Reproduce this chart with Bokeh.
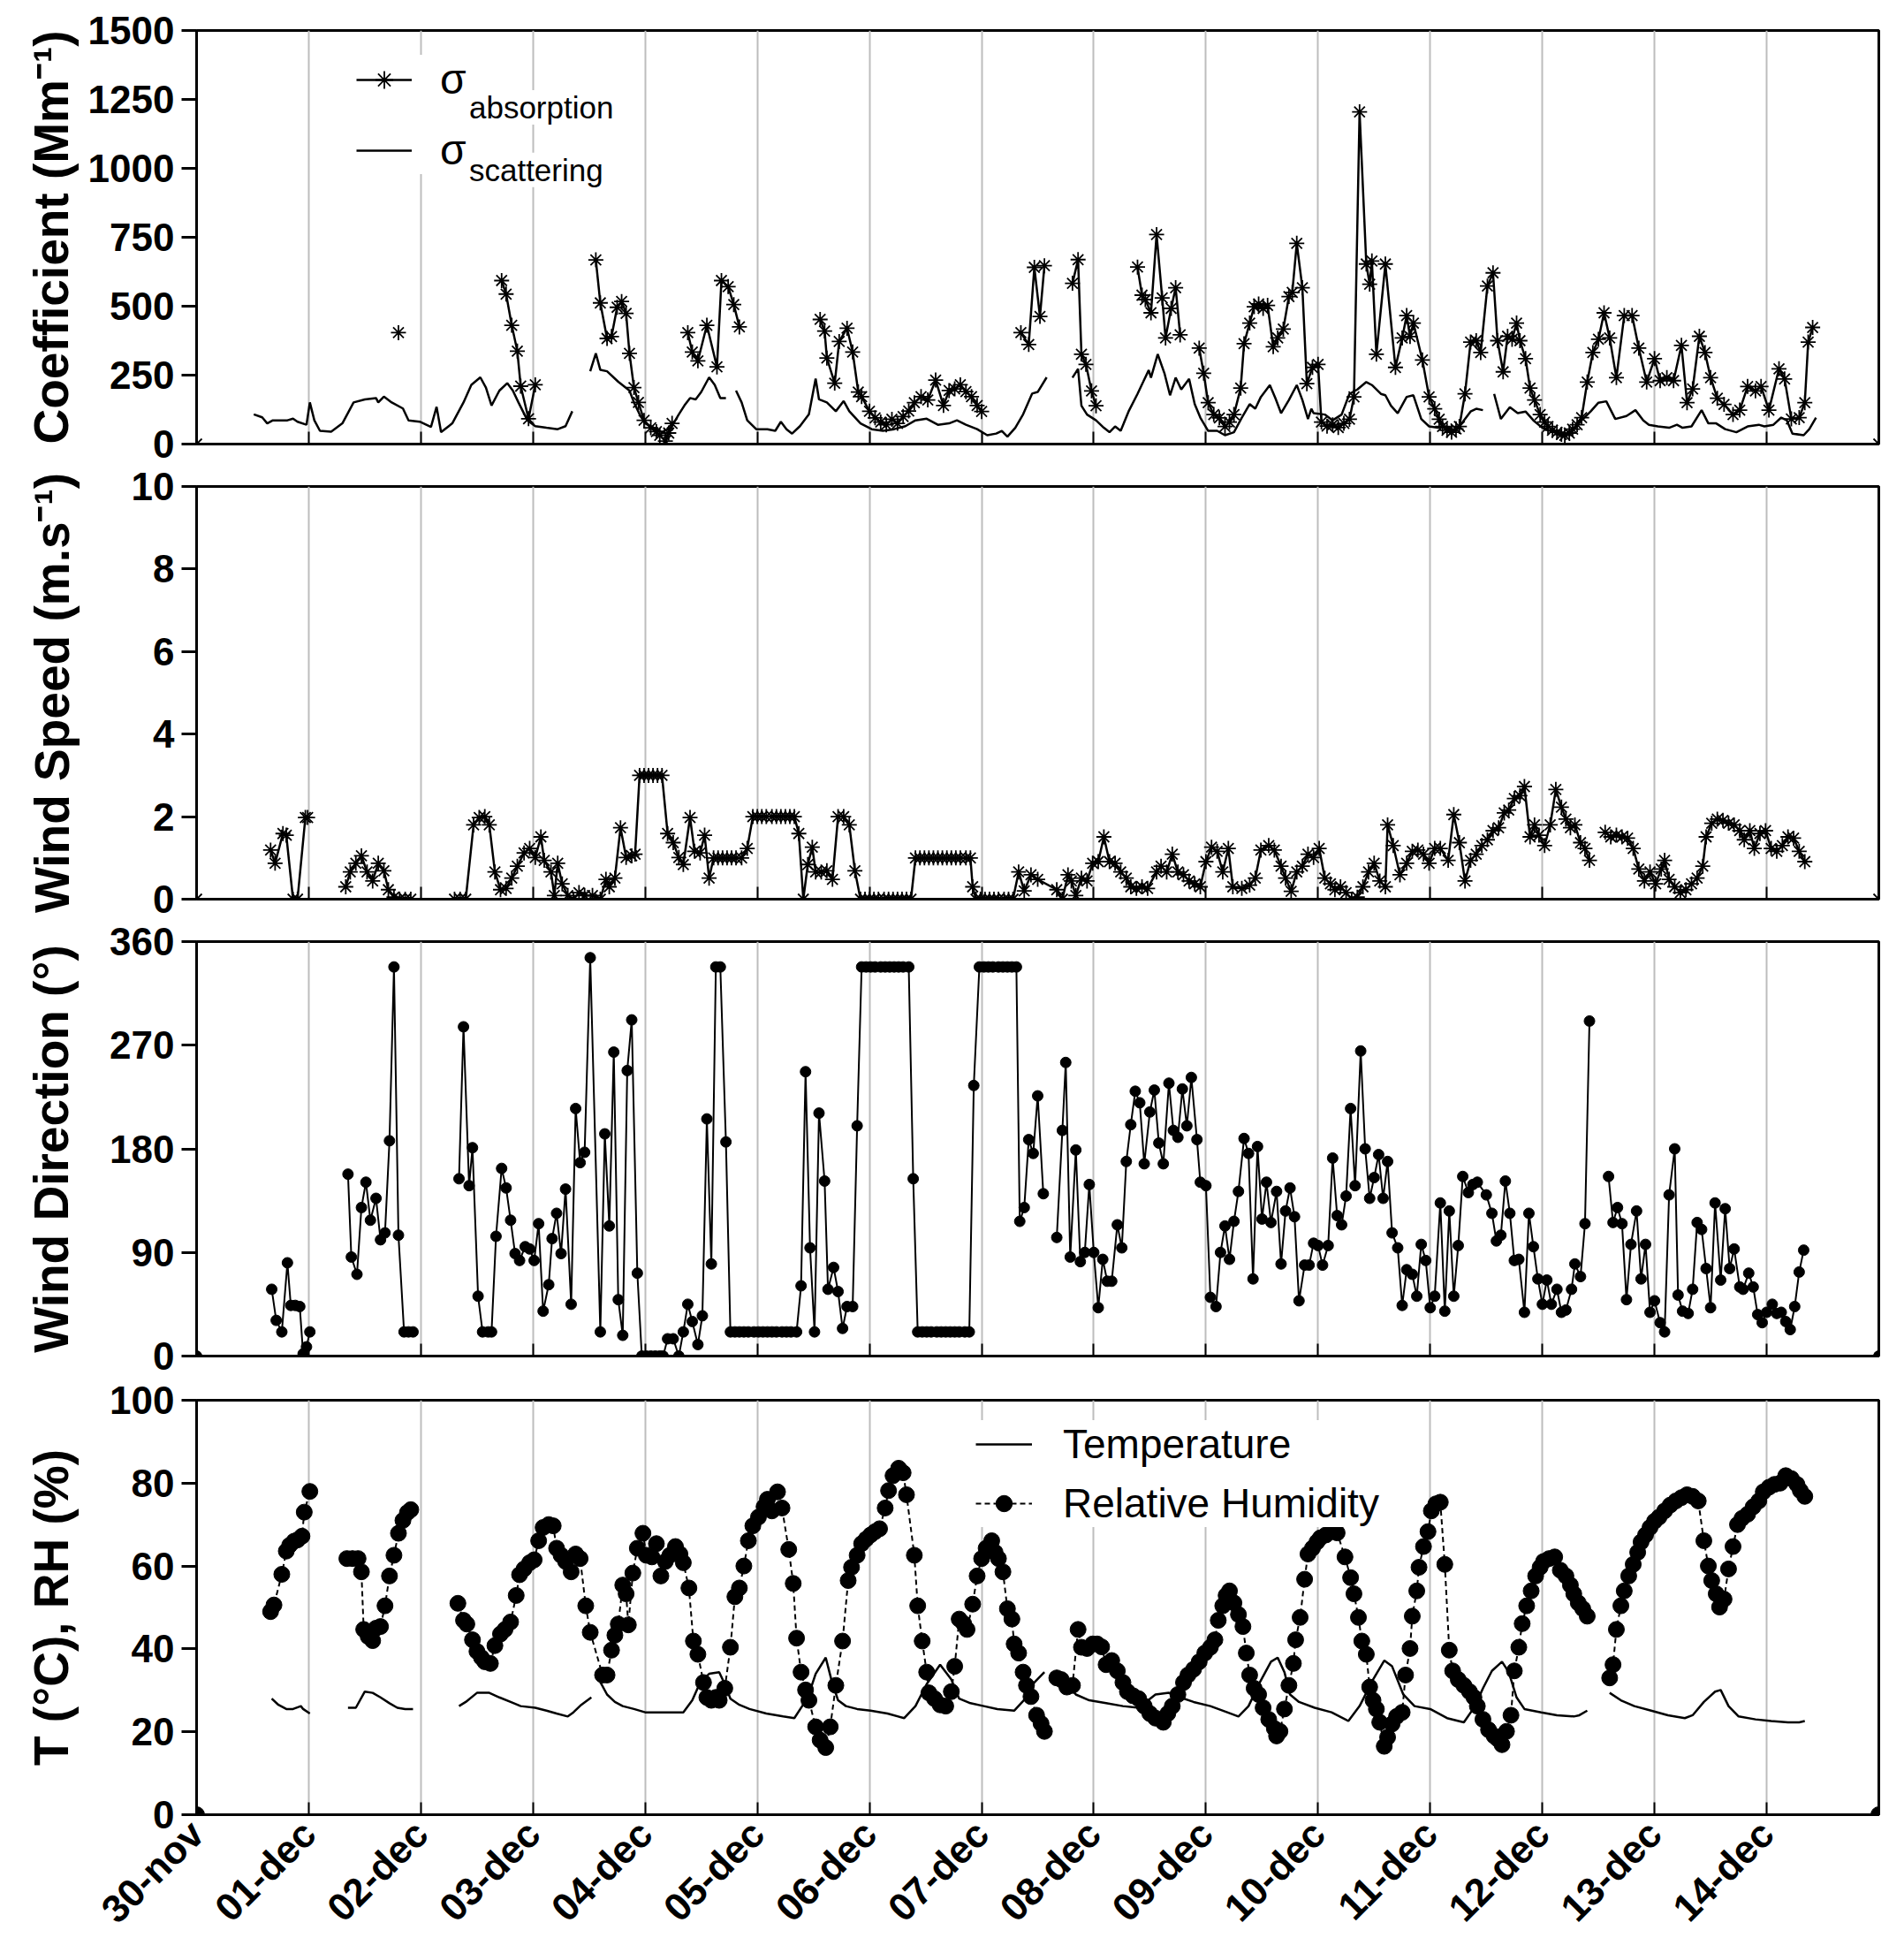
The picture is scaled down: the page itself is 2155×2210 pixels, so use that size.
import numpy as np
from bokeh.plotting import figure
from bokeh.models import Range1d, FixedTicker, Legend, LegendItem, Label
from bokeh.layouts import column
from bokeh.embed import file_html
from bokeh.resources import INLINE

FONT = "Liberation Sans"

# ---------------- data (day since 30-nov 00:00, value) ; None = gap ----------------
day_labels = ["30-nov", "01-dec", "02-dec", "03-dec", "04-dec", "05-dec", "06-dec", "07-dec",
              "08-dec", "09-dec", "10-dec", "11-dec", "12-dec", "13-dec", "14-dec"]

abs_pts = [
    (0, 0), None,
    (1.8, 404), None,
    (2.72, 593), (2.76, 544), (2.81, 431), (2.86, 337), (2.89, 210), (2.96, 92), (3.02, 215), None,
    (3.56, 668), (3.6, 512), (3.66, 383), (3.7, 390), (3.75, 496), (3.79, 517), (3.83, 474), (3.86, 329),
    (3.9, 205), (3.94, 151), (3.99, 86), (4.05, 59), (4.1, 45), (4.13, 32), (4.18, 11), (4.21, 40), (4.24, 75), None,
    (4.38, 404), (4.42, 334), (4.47, 302), (4.55, 431), (4.64, 280), (4.68, 593), (4.74, 571), (4.79, 506), (4.84, 425), None,
    (5.56, 452), (5.6, 410), (5.62, 312), (5.69, 221), (5.73, 372), (5.8, 420), (5.85, 334), (5.9, 189), (5.93, 172),
    (6.0, 119), (6.05, 95), (6.1, 80), (6.15, 70), (6.2, 90), (6.25, 75), (6.3, 100), (6.35, 120), (6.4, 150),
    (6.46, 172), (6.52, 160), (6.59, 232), (6.66, 140), (6.71, 194), (6.76, 200), (6.81, 215), (6.86, 190),
    (6.91, 172), (6.96, 140), (7.0, 118), None,
    (7.35, 404), (7.42, 361), (7.47, 641), (7.52, 463), (7.56, 647), None,
    (7.81, 583), (7.86, 669), (7.89, 326), (7.93, 289), (7.98, 193), (8.02, 139), None,
    (8.39, 642), (8.43, 540), (8.46, 524), (8.51, 476), (8.56, 760), (8.61, 530), (8.64, 385), (8.69, 492),
    (8.73, 567), (8.77, 396), None,
    (8.94, 348), (8.98, 257), (9.02, 150), (9.07, 107), (9.12, 95), (9.17, 64), (9.21, 80), (9.25, 107),
    (9.31, 203), (9.34, 364), (9.39, 439), (9.43, 498), (9.47, 508), (9.51, 492), (9.55, 503), (9.6, 353),
    (9.64, 385), (9.69, 417), (9.74, 535), (9.77, 550), (9.81, 728), (9.86, 567), (9.9, 219), (9.95, 278),
    (10.0, 289), (10.03, 80), (10.08, 65), (10.13, 70), (10.18, 60), (10.23, 75), (10.28, 90), (10.32, 171),
    (10.37, 1205), (10.43, 653), (10.46, 580), (10.48, 664), (10.52, 326), (10.6, 653), (10.69, 278),
    (10.75, 385), (10.79, 466), (10.82, 390), (10.85, 439), (10.93, 305), (10.99, 171), (11.04, 128),
    (11.08, 90), (11.11, 64), (11.15, 50), (11.19, 43), (11.23, 55), (11.26, 64), (11.31, 182), (11.36, 370),
    (11.41, 375), (11.45, 332), (11.51, 573), (11.56, 621), (11.6, 375), (11.65, 262), (11.69, 391),
    (11.73, 380), (11.77, 439), (11.8, 375), (11.85, 310), (11.89, 203), (11.93, 160), (11.98, 107),
    (12.02, 80), (12.05, 64), (12.09, 50), (12.13, 43), (12.17, 35), (12.2, 32), (12.24, 40), (12.27, 54),
    (12.31, 70), (12.35, 96), (12.4, 225), (12.45, 332), (12.5, 380), (12.55, 476), (12.6, 385), (12.66, 241),
    (12.73, 466), (12.8, 466), (12.86, 348), (12.93, 225), (13.0, 310), (13.05, 230), (13.11, 241),
    (13.17, 230), (13.24, 358), (13.29, 150), (13.34, 200), (13.4, 391), (13.45, 332), (13.5, 241),
    (13.56, 166), (13.62, 144), (13.7, 107), (13.76, 123), (13.83, 209), (13.9, 193), (13.95, 209),
    (14.02, 123), (14.11, 273), (14.16, 236), (14.22, 91), (14.29, 96), (14.34, 150), (14.37, 370), (14.41, 423), None,
    (15, 0),
]

sca_pts = [
    (0.51, 108), (0.585, 97), (0.63, 75), (0.68, 86), (0.73, 86), (0.81, 86), (0.86, 92), (0.9, 81), (0.98, 70),
    (1.01, 151), (1.05, 86), (1.1, 48), (1.2, 45), (1.3, 75), (1.4, 151), (1.5, 162), (1.6, 167), (1.62, 151),
    (1.67, 172), (1.74, 151), (1.84, 129), (1.89, 86), (1.99, 81), (2.09, 62), (2.14, 135), (2.18, 43),
    (2.28, 75), (2.38, 151), (2.45, 215), (2.53, 242), (2.58, 205), (2.63, 140), (2.7, 194), (2.77, 221),
    (2.82, 194), (2.87, 151), (2.95, 86), (3.02, 65), (3.12, 59), (3.22, 54), (3.29, 65), (3.35, 119), None,
    (3.51, 264), (3.56, 329), (3.6, 269), (3.66, 264), (3.76, 226), (3.86, 194), (3.9, 151), (3.95, 108),
    (4.0, 75), (4.08, 59), (4.15, 43), (4.23, 59), (4.3, 108), (4.35, 140), (4.4, 167), (4.45, 162),
    (4.5, 189), (4.57, 242), (4.62, 215), (4.67, 167), (4.72, 167), None,
    (4.81, 194), (4.86, 151), (4.91, 86), (4.99, 54), (5.09, 54), (5.16, 48), (5.21, 81), (5.26, 54),
    (5.31, 38), (5.38, 65), (5.46, 108), (5.52, 237), (5.55, 162), (5.62, 151), (5.7, 119), (5.77, 156),
    (5.82, 119), (5.92, 75), (6.02, 54), (6.12, 48), (6.22, 54), (6.32, 65), (6.41, 86), (6.51, 92),
    (6.61, 70), (6.71, 75), (6.78, 86), (6.86, 70), (6.96, 54), (7.05, 32), (7.13, 38), (7.18, 48),
    (7.23, 27), (7.3, 59), (7.37, 108), (7.45, 183), (7.5, 189), (7.58, 242), None,
    (7.81, 241), (7.86, 273), (7.89, 139), (7.94, 107), (8.02, 86), (8.09, 59), (8.14, 43), (8.19, 64),
    (8.24, 48), (8.31, 118), (8.39, 182), (8.44, 225), (8.49, 268), (8.51, 241), (8.57, 326), (8.63, 257),
    (8.68, 177), (8.73, 241), (8.78, 198), (8.85, 236), (8.9, 145), (8.95, 96), (9.02, 48), (9.1, 48),
    (9.17, 32), (9.25, 43), (9.32, 96), (9.39, 145), (9.44, 128), (9.49, 171), (9.57, 214), (9.62, 166),
    (9.67, 112), (9.74, 160), (9.81, 214), (9.86, 160), (9.91, 91), (9.94, 128), (9.96, 112), (10.06, 107),
    (10.13, 86), (10.21, 107), (10.28, 182), (10.35, 198), (10.43, 225), (10.48, 214), (10.56, 182),
    (10.6, 177), (10.65, 139), (10.71, 112), (10.79, 171), (10.85, 177), (10.92, 91), (10.99, 64),
    (11.07, 59), (11.14, 64), (11.21, 48), (11.29, 80), (11.36, 118), (11.41, 128), (11.47, 123), None,
    (11.57, 182), (11.63, 91), (11.71, 134), (11.78, 112), (11.85, 118), (11.92, 86), (12.0, 59), (12.1, 43),
    (12.2, 38), (12.27, 48), (12.35, 86), (12.43, 118), (12.5, 150), (12.57, 155), (12.65, 91), (12.75, 102),
    (12.83, 123), (12.9, 86), (12.95, 70), (13.03, 64), (13.13, 59), (13.2, 70), (13.25, 59), (13.33, 64),
    (13.42, 123), (13.48, 75), (13.55, 75), (13.63, 54), (13.73, 43), (13.83, 64), (13.93, 70), (13.98, 64),
    (14.06, 70), (14.13, 96), (14.18, 86), (14.23, 38), (14.33, 32), (14.38, 54), (14.44, 96),
]

ws_pts = [
    (0, 0), None,
    (0.66, 1.19), (0.7, 0.87), (0.77, 1.59), (0.8, 1.55), (0.86, 0), (0.9, 0), (0.97, 1.98), (0.99, 1.98), None,
    (1.33, 0.3), (1.37, 0.66), (1.42, 0.87), (1.47, 1.05), (1.52, 0.66), (1.57, 0.44), (1.62, 0.87),
    (1.67, 0.69), (1.71, 0.23), (1.76, 0.05), (1.81, 0), (1.86, 0), (1.91, 0), None,
    (2.3, 0), (2.35, 0), (2.4, 0), (2.47, 1.8), (2.52, 1.98), (2.57, 2.0), (2.61, 1.8), (2.66, 0.66),
    (2.71, 0.23), (2.76, 0.26), (2.81, 0.51), (2.86, 0.8), (2.92, 1.12), (2.97, 1.23), (3.02, 1.01),
    (3.07, 1.51), (3.1, 0.94), (3.16, 0.66), (3.19, 0.09), (3.22, 0.87), (3.26, 0.37), (3.31, 0.09),
    (3.36, 0), (3.41, 0.16), (3.46, 0.09), (3.53, 0.09), (3.6, 0), (3.65, 0.48), (3.68, 0.3), (3.73, 0.51),
    (3.78, 1.73), (3.83, 1.01), (3.88, 1.05), (3.91, 1.09), (3.95, 3.0), (3.99, 3.0), (4.03, 3.0),
    (4.07, 3.0), (4.11, 3.0), (4.15, 3.0), (4.2, 1.59), (4.25, 1.37), (4.3, 1.01), (4.34, 0.84), (4.4, 1.98),
    (4.44, 1.16), (4.49, 1.12), (4.53, 1.55), (4.57, 0.51), (4.61, 1.0), (4.65, 1.0), (4.69, 1.0),
    (4.73, 1.0), (4.77, 1.0), (4.81, 1.0), (4.86, 1.0), (4.91, 1.23), (4.96, 2.0), (5.0, 2.0), (5.04, 2.0),
    (5.08, 2.0), (5.13, 2.0), (5.17, 2.0), (5.21, 2.0), (5.25, 2.0), (5.29, 2.0), (5.33, 2.0), (5.37, 1.59),
    (5.41, 0), (5.45, 0.84), (5.49, 1.26), (5.52, 0.66), (5.57, 0.66), (5.62, 0.69), (5.67, 0.48),
    (5.72, 2.0), (5.77, 2.0), (5.82, 1.8), (5.87, 0.69), (5.92, 0), (5.96, 0), (6.0, 0), (6.04, 0), (6.08, 0),
    (6.13, 0), (6.17, 0), (6.21, 0), (6.25, 0), (6.29, 0), (6.33, 0), (6.37, 0), (6.41, 1.0), (6.45, 1.0),
    (6.49, 1.0), (6.53, 1.0), (6.57, 1.0), (6.61, 1.0), (6.65, 1.0), (6.69, 1.0), (6.73, 1.0), (6.77, 1.0),
    (6.81, 1.0), (6.86, 1.0), (6.9, 1.0), (6.92, 0.3), (6.95, 0), (6.99, 0), (7.03, 0), (7.07, 0), (7.11, 0),
    (7.15, 0), (7.2, 0), (7.24, 0), (7.28, 0), (7.33, 0.66), (7.38, 0.2), (7.44, 0.59), (7.5, 0.48),
    (7.67, 0.23), (7.72, 0), (7.77, 0.59), (7.8, 0.44), (7.84, 0.09), (7.89, 0.51), (7.94, 0.44),
    (7.99, 0.87), (8.04, 0.91), (8.09, 1.51), (8.14, 0.91), (8.19, 0.87), (8.24, 0.66), (8.29, 0.51),
    (8.33, 0.3), (8.38, 0.26), (8.43, 0.3), (8.48, 0.26), (8.56, 0.66), (8.6, 0.8), (8.65, 0.66), (8.7, 1.09),
    (8.75, 0.66), (8.8, 0.59), (8.85, 0.44), (8.9, 0.37), (8.95, 0.3), (9.0, 0.91), (9.05, 1.26), (9.1, 1.16),
    (9.15, 0.66), (9.2, 1.23), (9.24, 0.3), (9.32, 0.26), (9.39, 0.34), (9.44, 0.51), (9.49, 1.19),
    (9.56, 1.3), (9.61, 1.19), (9.67, 0.8), (9.71, 0.51), (9.76, 0.19), (9.81, 0.66), (9.86, 0.8),
    (9.91, 1.09), (9.96, 1.01), (10.01, 1.23), (10.06, 0.51), (10.11, 0.37), (10.15, 0.23), (10.2, 0.3),
    (10.25, 0.16), (10.3, 0), (10.35, 0.05), (10.4, 0.3), (10.45, 0.66), (10.5, 0.87), (10.55, 0.44),
    (10.6, 0.3), (10.62, 1.8), (10.67, 1.3), (10.73, 0.59), (10.79, 0.87), (10.84, 1.16), (10.89, 1.19),
    (10.94, 1.09), (10.99, 0.87), (11.04, 1.23), (11.09, 1.23), (11.16, 0.94), (11.21, 2.05), (11.26, 1.37),
    (11.31, 0.44), (11.36, 0.94), (11.41, 1.09), (11.46, 1.3), (11.51, 1.44), (11.56, 1.66), (11.61, 1.73),
    (11.66, 2.09), (11.7, 2.16), (11.75, 2.44), (11.8, 2.51), (11.84, 2.73), (11.89, 1.51), (11.93, 1.8),
    (11.97, 1.55), (12.02, 1.3), (12.07, 1.8), (12.12, 2.66), (12.17, 2.23), (12.21, 1.94), (12.25, 1.73),
    (12.29, 1.8), (12.34, 1.37), (12.38, 1.23), (12.42, 0.94), None,
    (12.56, 1.62), (12.61, 1.51), (12.66, 1.55), (12.71, 1.51), (12.76, 1.48), (12.81, 1.23), (12.86, 0.73),
    (12.91, 0.44), (12.96, 0.66), (13.01, 0.37), (13.06, 0.73), (13.09, 0.94), (13.13, 0.48), (13.18, 0.3),
    (13.23, 0.16), (13.28, 0.23), (13.33, 0.37), (13.38, 0.51), (13.43, 0.8), (13.46, 1.51), (13.51, 1.84),
    (13.56, 1.94), (13.61, 1.91), (13.66, 1.84), (13.71, 1.8), (13.76, 1.66), (13.8, 1.44), (13.85, 1.66),
    (13.89, 1.23), (13.94, 1.59), (13.99, 1.66), (14.04, 1.23), (14.09, 1.16), (14.14, 1.3), (14.19, 1.51),
    (14.24, 1.48), (14.29, 1.16), (14.34, 0.91), None,
    (15, 0),
]

wd_pts = [
    (0, 0), None,
    (0.67, 58), (0.71, 31), (0.76, 21), (0.81, 81), (0.84, 44), (0.88, 44), (0.92, 43), (0.95, 2), (0.98, 8), (1.01, 21), None,
    (1.35, 158), (1.38, 86), (1.43, 71), (1.47, 129), (1.51, 151), (1.55, 118), (1.6, 137), (1.64, 101),
    (1.68, 107), (1.72, 187), (1.76, 338), (1.8, 105), (1.85, 21), (1.89, 21), (1.93, 21), None,
    (2.34, 154), (2.38, 286), (2.43, 148), (2.46, 181), (2.51, 52), (2.55, 21), (2.6, 21), (2.63, 21),
    (2.67, 104), (2.72, 163), (2.76, 146), (2.8, 118), (2.84, 89), (2.88, 83), (2.93, 95), (2.97, 93),
    (3.01, 83), (3.05, 115), (3.09, 39), (3.14, 62), (3.17, 102), (3.21, 124), (3.25, 89), (3.29, 145),
    (3.34, 45), (3.38, 215), (3.42, 168), (3.46, 177), (3.51, 346), (3.6, 21), (3.64, 193), (3.68, 113),
    (3.72, 264), (3.76, 49), (3.8, 18), (3.84, 248), (3.88, 292), (3.93, 72), (3.97, 0), (4.01, 0),
    (4.05, 0), (4.09, 0), (4.13, 0), (4.16, 0), (4.2, 15), (4.25, 15), (4.3, 0), (4.34, 21), (4.38, 45),
    (4.42, 30), (4.47, 10), (4.51, 35), (4.55, 206), (4.59, 80), (4.63, 338), (4.67, 338), (4.72, 186),
    (4.76, 21), (4.8, 21), (4.84, 21), (4.88, 21), (4.92, 21), (4.97, 21), (5.01, 21), (5.05, 21), (5.09, 21),
    (5.13, 21), (5.17, 21), (5.22, 21), (5.26, 21), (5.3, 21), (5.35, 21), (5.39, 61), (5.43, 247), (5.47, 94),
    (5.51, 21), (5.55, 211), (5.6, 152), (5.63, 58), (5.68, 77), (5.72, 56), (5.76, 24), (5.8, 43), (5.85, 43),
    (5.89, 200), (5.93, 338), (5.97, 338), (6.01, 338), (6.05, 338), (6.1, 338), (6.14, 338), (6.18, 338),
    (6.22, 338), (6.26, 338), (6.3, 338), (6.35, 338), (6.39, 154), (6.43, 21), (6.47, 21), (6.51, 21),
    (6.55, 21), (6.6, 21), (6.64, 21), (6.68, 21), (6.72, 21), (6.76, 21), (6.8, 21), (6.85, 21), (6.89, 21),
    (6.93, 235), (6.98, 338), (7.02, 338), (7.06, 338), (7.1, 338), (7.15, 338), (7.19, 338), (7.23, 338),
    (7.27, 338), (7.31, 338), (7.34, 117), (7.38, 129), (7.42, 188), (7.46, 176), (7.5, 226), (7.55, 141), None,
    (7.67, 103), (7.72, 196), (7.75, 255), (7.79, 86), (7.84, 179), (7.88, 82), (7.92, 90), (7.96, 149),
    (8.0, 90), (8.04, 42), (8.08, 84), (8.12, 65), (8.16, 65), (8.21, 114), (8.25, 94), (8.29, 169),
    (8.33, 201), (8.37, 230), (8.41, 220), (8.45, 167), (8.5, 212), (8.54, 231), (8.58, 185), (8.62, 167),
    (8.67, 237), (8.71, 196), (8.75, 190), (8.79, 232), (8.83, 200), (8.87, 242), (8.92, 188), (8.95, 151),
    (9.0, 148), (9.04, 51), (9.09, 43), (9.13, 90), (9.17, 113), (9.21, 84), (9.25, 117), (9.29, 143),
    (9.34, 189), (9.38, 176), (9.42, 67), (9.46, 182), (9.5, 119), (9.54, 151), (9.58, 116), (9.63, 143),
    (9.67, 80), (9.71, 126), (9.75, 146), (9.79, 121), (9.83, 48), (9.88, 79), (9.92, 79), (9.96, 98),
    (10.0, 96), (10.04, 79), (10.09, 96), (10.13, 172), (10.17, 122), (10.21, 114), (10.25, 139), (10.29, 215),
    (10.33, 148), (10.38, 265), (10.42, 180), (10.46, 137), (10.5, 155), (10.54, 175), (10.58, 137),
    (10.62, 169), (10.66, 107), (10.71, 94), (10.75, 44), (10.79, 75), (10.84, 71), (10.88, 52), (10.92, 97),
    (10.96, 83), (11.0, 42), (11.04, 52), (11.09, 133), (11.13, 39), (11.17, 126), (11.21, 52), (11.25, 96),
    (11.29, 156), (11.34, 142), (11.38, 149), (11.42, 151), (11.5, 140), (11.55, 124), (11.59, 100),
    (11.63, 105), (11.67, 152), (11.71, 124), (11.75, 83), (11.79, 84), (11.84, 38), (11.88, 124), (11.92, 95),
    (11.96, 67), (12.0, 45), (12.04, 66), (12.08, 45), (12.13, 58), (12.17, 38), (12.21, 40), (12.26, 58),
    (12.29, 80), (12.34, 69), (12.38, 115), (12.42, 291), None,
    (12.59, 156), (12.63, 116), (12.67, 129), (12.71, 115), (12.75, 49), (12.79, 97), (12.84, 126), (12.88, 67),
    (12.92, 97), (12.96, 38), (13.0, 48), (13.05, 29), (13.09, 21), (13.13, 140), (13.18, 180), (13.21, 53),
    (13.25, 39), (13.3, 37), (13.34, 58), (13.38, 116), (13.42, 110), (13.46, 76), (13.5, 42), (13.54, 133),
    (13.59, 66), (13.63, 128), (13.67, 76), (13.71, 93), (13.76, 60), (13.79, 58), (13.84, 72), (13.88, 60),
    (13.92, 36), (13.96, 29), (14.0, 38), (14.05, 45), (14.09, 37), (14.13, 38), (14.17, 30), (14.21, 23),
    (14.25, 43), (14.29, 73), (14.33, 92), None,
    (15, 0),
]

rh_pts = [
    (0, 0), None,
    (0.66, 49), (0.69, 50.6), (0.76, 58), (0.8, 63.6), (0.83, 65), (0.87, 66), (0.9, 66.3), (0.94, 67.2),
    (0.96, 73), (1.01, 78), None,
    (1.34, 61.8), (1.39, 61.8), (1.44, 61.8), (1.47, 58.6), (1.49, 44.7), (1.53, 43), (1.57, 42), (1.6, 45),
    (1.64, 45.4), (1.68, 50.4), (1.72, 57.6), (1.76, 62.6), (1.8, 67.9), (1.84, 71), (1.88, 72.9), (1.91, 73.6), None,
    (2.33, 51), (2.38, 46.9), (2.41, 46), (2.46, 42.2), (2.5, 39.4), (2.54, 37.9), (2.57, 36.9), (2.62, 36.5),
    (2.66, 40.8), (2.71, 43.6), (2.75, 44.7), (2.8, 46.5), (2.85, 52.9), (2.88, 57.9), (2.92, 59.3),
    (2.97, 60.8), (3.01, 61.5), (3.05, 66.1), (3.09, 69.3), (3.14, 70), (3.18, 69.7), (3.21, 64.3),
    (3.25, 62.6), (3.29, 61.1), (3.34, 58.6), (3.38, 62.9), (3.42, 61.8), (3.47, 50.4), (3.51, 44),
    (3.62, 33.7), (3.66, 33.7), (3.7, 39.7), (3.73, 43.3), (3.76, 46), (3.8, 55.4), (3.83, 53.3),
    (3.85, 45.8), (3.89, 58.3), (3.93, 64.3), (3.98, 67.9), (4.01, 62.6), (4.06, 62.2), (4.1, 65.4),
    (4.14, 57.6), (4.18, 61.1), (4.22, 62.6), (4.27, 64.7), (4.31, 62.9), (4.34, 60.8), (4.39, 54.7),
    (4.43, 41.9), (4.47, 38.7), (4.52, 31.9), (4.55, 28.3), (4.59, 27.6), (4.63, 28.3), (4.66, 27.6),
    (4.71, 30.5), (4.76, 40.4), (4.8, 52.6), (4.84, 54.7), (4.88, 60), (4.92, 66.1), (4.96, 69.7),
    (5.01, 71.8), (5.06, 74.3), (5.09, 76.1), (5.13, 73.3), (5.18, 77.9), (5.22, 74), (5.28, 64), (5.32, 55.8),
    (5.35, 42.6), (5.39, 34.4), (5.43, 30.1), (5.46, 27.6), (5.52, 21.2), (5.56, 18), (5.61, 16.2),
    (5.65, 21.2), (5.7, 31.2), (5.76, 41.9), (5.81, 56.5), (5.84, 59.7), (5.89, 62.6), (5.93, 65.4),
    (5.97, 66.5), (6.01, 67.5), (6.05, 68.3), (6.09, 69), (6.14, 74), (6.17, 78.2), (6.21, 81.8), (6.26, 83.6),
    (6.3, 82.5), (6.33, 77.2), (6.4, 62.6), (6.43, 50.4), (6.47, 41.9), (6.51, 34.4), (6.53, 29.4),
    (6.58, 28), (6.63, 26.5), (6.68, 26.2), (6.73, 29.7), (6.76, 35.8), (6.8, 47.2), (6.84, 46.1),
    (6.87, 44.7), (6.92, 50.8), (6.96, 57.6), (7.0, 61.8), (7.04, 64.3), (7.09, 66.1), (7.12, 63.3),
    (7.15, 61.8), (7.19, 58.6), (7.23, 49.7), (7.27, 47.2), (7.29, 41.2), (7.33, 39), (7.37, 34.4),
    (7.4, 31.2), (7.44, 28.5), (7.49, 24), (7.53, 22), (7.56, 20.1), None,
    (7.67, 33), (7.71, 32.6), (7.76, 30.8), (7.81, 31.2), (7.86, 44.7), (7.89, 40.4), (7.94, 40.1),
    (7.99, 41.2), (8.03, 41.2), (8.07, 40.5), (8.11, 36.2), (8.16, 37.2), (8.21, 34.7), (8.26, 31.9),
    (8.3, 29.7), (8.35, 28.7), (8.4, 28), (8.45, 26.2), (8.5, 24.4), (8.55, 23.3), (8.62, 22.3), (8.66, 24.4),
    (8.7, 26.2), (8.75, 29), (8.8, 31.9), (8.84, 33.7), (8.89, 35.1), (8.94, 36.9), (8.99, 39), (9.04, 40.4),
    (9.08, 42.2), (9.11, 46.9), (9.15, 50.4), (9.18, 52.9), (9.21, 54), (9.25, 51.1), (9.29, 48.3),
    (9.33, 45.4), (9.36, 39), (9.39, 33.7), (9.43, 30.5), (9.47, 29), (9.51, 25.8), (9.56, 23), (9.61, 20.8),
    (9.63, 19), (9.66, 20.1), (9.7, 25.5), (9.74, 31.2), (9.78, 36.5), (9.8, 42.2), (9.84, 47.6), (9.88, 56.8),
    (9.91, 62.9), (9.95, 64.3), (9.99, 65.8), (10.02, 66.8), (10.07, 67.5), (10.12, 68.3), (10.17, 68),
    (10.24, 62.2), (10.29, 57.2), (10.32, 53.3), (10.36, 47.6), (10.39, 41.9), (10.43, 38.7), (10.46, 30.8),
    (10.49, 27.6), (10.52, 25.5), (10.55, 22.3), (10.59, 16.5), (10.62, 18.7), (10.66, 21.9), (10.7, 23.7),
    (10.75, 24.7), (10.78, 33.7), (10.82, 40.1), (10.84, 47.9), (10.88, 54), (10.9, 59.7), (10.94, 64.7),
    (10.98, 68.3), (11.01, 73.3), (11.05, 75), (11.09, 75.4), (11.13, 60.4), (11.17, 39.7), (11.2, 34.7),
    (11.25, 32.6), (11.3, 31.2), (11.35, 29.7), (11.39, 28.3), (11.42, 26.2), (11.47, 23), (11.52, 20.5),
    (11.57, 19), (11.6, 18.3), (11.64, 16.9), (11.68, 20.1), (11.72, 24), (11.75, 34.7), (11.79, 40.4),
    (11.82, 46.1), (11.86, 50.4), (11.9, 54), (11.94, 57.6), (11.98, 59.7), (12.01, 61.1), (12.06, 61.8),
    (12.11, 62.2), (12.16, 59), (12.21, 57.6), (12.25, 55.4), (12.28, 53.3), (12.32, 51.1), (12.36, 49.7),
    (12.4, 47.9), None,
    (12.6, 33), (12.63, 36.2), (12.66, 44.7), (12.7, 50.4), (12.73, 54), (12.77, 57.6), (12.81, 60.4),
    (12.85, 63.3), (12.88, 65.8), (12.92, 67.5), (12.96, 69.3), (13.0, 70.8), (13.04, 71.8), (13.09, 73.3),
    (13.14, 74.7), (13.19, 75.7), (13.24, 76.5), (13.29, 77.2), (13.34, 76.8), (13.39, 75.7), (13.44, 66.1),
    (13.48, 60), (13.51, 56.5), (13.55, 53.3), (13.58, 50.1), (13.62, 52), (13.66, 59.3), (13.7, 64.7),
    (13.74, 70), (13.78, 71.5), (13.83, 72.5), (13.88, 74.3), (13.93, 75.7), (13.97, 77.9), (14.02, 79),
    (14.07, 79.7), (14.12, 80), (14.17, 81.8), (14.22, 81.1), (14.27, 79.7), (14.3, 78.2), (14.34, 76.8), None,
    (15, 0),
]

temp_pts = [
    (0.67, 28), (0.73, 26.5), (0.8, 25.5), (0.86, 25.5), (0.93, 26.2), (0.95, 25.5), (1.01, 24.4), None,
    (1.35, 25.8), (1.42, 25.8), (1.5, 29.7), (1.57, 29.4), (1.64, 28.3), (1.72, 26.9), (1.79, 25.8),
    (1.86, 25.5), (1.93, 25.5), None,
    (2.34, 26.2), (2.4, 27.2), (2.5, 29.4), (2.61, 29.4), (2.7, 28.3), (2.8, 27.2), (2.89, 26.2), (3.02, 25.8),
    (3.12, 25.1), (3.21, 24.4), (3.31, 23.7), (3.36, 24.7), (3.43, 26.5), (3.52, 28.3), None,
    (3.6, 32), (3.66, 29), (3.73, 27.2), (3.8, 26.2), (3.9, 25.5), (4.0, 24.7), (4.15, 24.7), (4.25, 24.7),
    (4.34, 24.7), (4.42, 27.6), (4.49, 31.9), (4.57, 34), (4.66, 34.4), (4.71, 31.5), (4.76, 28), (4.84, 26.5),
    (4.93, 25.5), (5.08, 24.4), (5.23, 23.7), (5.33, 23.3), (5.4, 26.2), (5.45, 28.3), (5.52, 34), (5.61, 37.9),
    (5.66, 32.6), (5.72, 27.6), (5.79, 26.2), (5.89, 25.5), (6.01, 25.1), (6.16, 24.4), (6.31, 23.3),
    (6.41, 26.2), (6.51, 31.5), (6.63, 36.2), (6.73, 32.6), (6.8, 28), (6.9, 26.9), (7.02, 26.2), (7.14, 25.5),
    (7.29, 25.1), (7.39, 28), (7.47, 31.9), (7.56, 34.4), None,
    (7.79, 30.5), (7.84, 29), (7.96, 27.6), (8.11, 26.9), (8.26, 26.2), (8.4, 25.8), (8.55, 29), (8.67, 29.4),
    (8.77, 28.3), (8.89, 27.2), (9.04, 26.2), (9.19, 24.7), (9.29, 23.7), (9.38, 26.2), (9.48, 31.9),
    (9.58, 36.9), (9.64, 37.9), (9.7, 34.4), (9.75, 29), (9.83, 27.2), (9.97, 25.8), (10.12, 24.7),
    (10.27, 22.6), (10.37, 26.2), (10.49, 32.6), (10.59, 37.2), (10.66, 35.8), (10.76, 29), (10.86, 26.2),
    (11.0, 25.5), (11.15, 23.3), (11.3, 22.3), (11.4, 26.2), (11.47, 30.5), (11.55, 34.7), (11.64, 36.9),
    (11.7, 34.4), (11.77, 28.3), (11.84, 25.5), (11.99, 24.7), (12.13, 24), (12.28, 23.7), (12.33, 24),
    (12.4, 25.1), None,
    (12.6, 29.4), (12.7, 27.6), (12.82, 26.2), (12.97, 25.1), (13.12, 24), (13.27, 23.3), (13.34, 24),
    (13.44, 27.2), (13.54, 29.7), (13.59, 30.1), (13.66, 26.2), (13.75, 23.7), (13.9, 23), (14.04, 22.6),
    (14.19, 22.3), (14.29, 22.3), (14.34, 22.6),
]

coef_ticks = [0, 250, 500, 750, 1000, 1250, 1500]
ws_ticks = [0, 2, 4, 6, 8, 10]
wd_ticks = [0, 90, 180, 270, 360]
trh_ticks = [0, 20, 40, 60, 80, 100]


def xy(pts):
    xs, ys = [], []
    for p in pts:
        if p is None:
            xs.append(np.nan)
            ys.append(np.nan)
        else:
            xs.append(p[0])
            ys.append(p[1])
    return np.array(xs, dtype=float), np.array(ys, dtype=float)


FRAME_W = 1904
LEFT = 222


def make_fig(ymax, yticks, ylabel, frame_h, top, bottom, label_standoff, last=False):
    p = figure(output_backend="svg", toolbar_location=None,
               x_range=Range1d(0, 15), y_range=Range1d(0, ymax),
               frame_width=FRAME_W, frame_height=frame_h,
               min_border_left=LEFT, min_border_right=12,
               min_border_top=top, min_border_bottom=bottom,
               background_fill_color="white", border_fill_color="white")
    p.outline_line_color = "black"
    p.outline_line_width = 3
    p.outline_line_alpha = 1.0

    xa = p.xaxis[0]
    xa.ticker = FixedTicker(ticks=list(range(16)))
    xa.axis_line_width = 3
    xa.axis_line_color = "black"
    xa.major_tick_in = 14
    xa.major_tick_out = 0
    xa.major_tick_line_width = 2
    xa.minor_tick_line_color = None
    if last:
        ov = {i: day_labels[i] for i in range(15)}
        ov[15] = ""
        xa.major_label_overrides = ov
        xa.major_label_orientation = np.pi / 4
        xa.major_label_text_font = FONT
        xa.major_label_text_font_size = "44px"
        xa.major_label_text_font_style = "bold"
        xa.major_label_text_color = "black"
        xa.major_label_standoff = 14
    else:
        xa.major_label_overrides = {i: "" for i in range(16)}
        xa.major_label_standoff = 0

    ya = p.yaxis[0]
    ya.ticker = FixedTicker(ticks=yticks)
    ya.axis_line_width = 3
    ya.axis_line_color = "black"
    ya.major_tick_out = 17
    ya.major_tick_in = 0
    ya.major_tick_line_width = 3
    ya.minor_tick_line_color = None
    ya.major_label_text_font = FONT
    ya.major_label_text_font_size = "44px"
    ya.major_label_text_font_style = "bold"
    ya.major_label_text_color = "black"
    ya.major_label_standoff = 8
    ya.axis_label = ylabel
    ya.axis_label_text_font = FONT
    ya.axis_label_text_font_size = "55px"
    ya.axis_label_text_font_style = "bold"
    ya.axis_label_text_color = "black"
    ya.axis_label_standoff = label_standoff

    p.xgrid.ticker = FixedTicker(ticks=list(range(16)))
    p.xgrid.grid_line_color = "#bdbdbd"
    p.xgrid.grid_line_width = 2
    p.ygrid.grid_line_color = None
    return p


# ---------------- panel 1: coefficients ----------------
p1 = make_fig(1500, coef_ticks, "Coefficient (Mm\u207b\u00b9)", 468, 34, 24, 8)
sx, sy = xy(sca_pts)
r_sca = p1.line(sx, sy, line_color="black", line_width=2.5)
ax_, ay_ = xy(abs_pts)
r_abs_l = p1.line(ax_, ay_, line_color="black", line_width=2.5)
r_abs_m = p1.scatter(ax_, ay_, marker="asterisk", size=17, line_color="black", line_width=1.8)

leg1 = Legend(items=[LegendItem(label="\u03c3", renderers=[r_abs_l, r_abs_m]),
                     LegendItem(label="\u03c3", renderers=[r_sca])],
              location=(181, 305), orientation="vertical",
              glyph_width=63, glyph_height=50, label_height=50, label_width=20,
              label_standoff=32, spacing=25, padding=10, margin=0,
              label_text_font=FONT, label_text_font_size="48px", label_text_color="black",
              background_fill_color="white", background_fill_alpha=1.0, border_line_color=None)
p1.add_layout(leg1)
for txt, yv in (("absorption", 1221), ("scattering", 994)):
    p1.add_layout(Label(x=2.43, y=yv, text=txt, text_font=FONT, text_font_size="35px",
                        text_color="black", text_baseline="alphabetic", text_align="left",
                        background_fill_color="white", background_fill_alpha=1.0))

# ---------------- panel 2: wind speed ----------------
p2 = make_fig(10, ws_ticks, "Wind Speed (m.s\u207b\u00b9)", 467, 24, 24, 56)
wx, wy = xy(ws_pts)
p2.line(wx, wy, line_color="black", line_width=2.5)
p2.scatter(wx, wy, marker="asterisk", size=17, line_color="black", line_width=1.8)

# ---------------- panel 3: wind direction ----------------
p3 = make_fig(360, wd_ticks, "Wind Direction (\u00b0)", 469, 24, 25, 32)
dx, dy = xy(wd_pts)
p3.line(dx, dy, line_color="black", line_width=2)
p3.scatter(dx, dy, marker="circle", size=12, fill_color="black", line_color="black")

# ---------------- panel 4: T and RH ----------------
p4 = make_fig(100, trh_ticks, "T (\u00b0C), RH (%)", 469, 25, 20, 32, last=True)
tx, ty = xy(temp_pts)
r_t = p4.line(tx, ty, line_color="black", line_width=2.5)
hx, hy = xy(rh_pts)
r_h_l = p4.line(hx, hy, line_color="black", line_width=2, line_dash="6 4")
r_h_m = p4.scatter(hx, hy, marker="circle", size=18, fill_color="black", line_color="black")
leg4 = Legend(items=[LegendItem(label="Temperature", renderers=[r_t]),
                     LegendItem(label="Relative Humidity", renderers=[r_h_l, r_h_m])],
              location=(882, 325), orientation="vertical",
              glyph_width=64, glyph_height=46, label_height=46,
              label_standoff=35, spacing=13, padding=10, margin=0,
              label_text_font=FONT, label_text_font_size="46px", label_text_color="black",
              background_fill_color="white", background_fill_alpha=1.0, border_line_color=None)
p4.add_layout(leg4)

layout = column(p1, p2, p3, p4, spacing=0)

with open("out.html", "w") as f:
    f.write(file_html(layout, INLINE))
